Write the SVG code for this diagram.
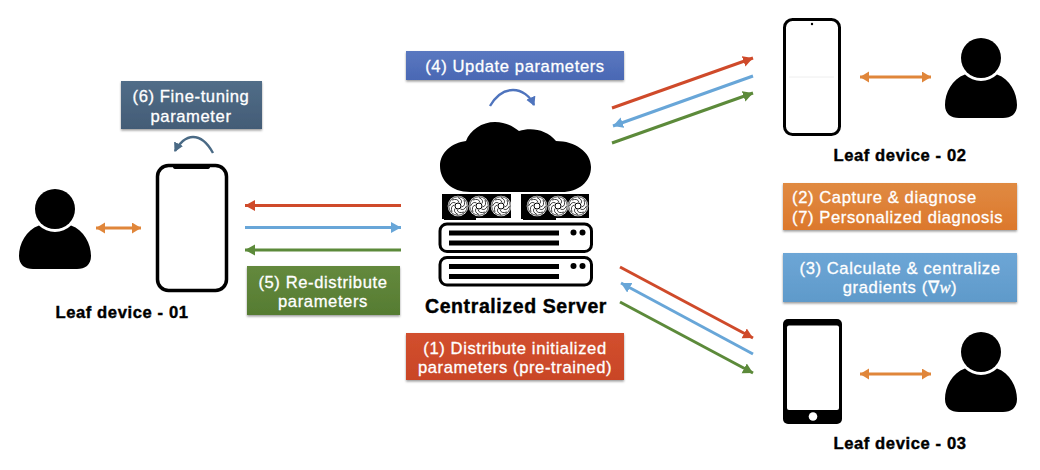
<svg xmlns="http://www.w3.org/2000/svg" xmlns:xlink="http://www.w3.org/1999/xlink" width="1040" height="470" viewBox="0 0 1040 470">
<style>
text{font-family:"Liberation Sans",Arial,sans-serif}
.lbl{fill:#fff;stroke:#fff;stroke-width:.3;font-size:16.6px;text-anchor:middle;letter-spacing:.6px}
.cap{fill:#000;stroke:#000;stroke-width:.4;font-weight:bold;font-size:16.6px;text-anchor:middle;letter-spacing:.6px}
.box{filter:url(#sh)}
.a{fill:none;stroke-width:3}
.r{stroke:#cf4a2a;marker-end:url(#mr)}
.b{stroke:#68a6d8;marker-end:url(#mb)}
.g{stroke:#5c8a3a;marker-end:url(#mg)}
.o{stroke:#e0863a;stroke-width:3;marker-start:url(#mo);marker-end:url(#mo)}
.bar{fill:#000}
</style>
<defs>
<filter id="sh" x="-5%" y="-10%" width="110%" height="125%"><feDropShadow dx="0" dy="1.5" stdDeviation="1.2" flood-color="#000" flood-opacity=".4"/></filter>
<marker id="mr" markerUnits="userSpaceOnUse" markerWidth="12" markerHeight="12" refX="10" refY="5.5" orient="auto"><path d="M0 0L10 5.5L0 11z" fill="#cf4a2a"/></marker>
<marker id="mb" markerUnits="userSpaceOnUse" markerWidth="12" markerHeight="12" refX="10" refY="5.5" orient="auto"><path d="M0 0L10 5.5L0 11z" fill="#68a6d8"/></marker>
<marker id="mg" markerUnits="userSpaceOnUse" markerWidth="12" markerHeight="12" refX="10" refY="5.5" orient="auto"><path d="M0 0L10 5.5L0 11z" fill="#5c8a3a"/></marker>
<marker id="mo" markerUnits="userSpaceOnUse" markerWidth="12" markerHeight="12" refX="9" refY="5.5" orient="auto-start-reverse"><path d="M0 0L9 5.5L0 11z" fill="#e0863a"/></marker>
<marker id="mu" markerUnits="userSpaceOnUse" markerWidth="12" markerHeight="12" refX="8" refY="5" orient="auto"><path d="M0 0L9 5L0 10z" fill="#4f74bd"/></marker>
<marker id="ms" markerUnits="userSpaceOnUse" markerWidth="12" markerHeight="12" refX="8" refY="5" orient="auto"><path d="M0 0L9 5L0 10z" fill="#4a6a85"/></marker>
<linearGradient id="gu" x1="0" y1="0" x2="0" y2="1"><stop offset="0" stop-color="#5a78c0"/><stop offset="1" stop-color="#4a68b4"/></linearGradient>
<linearGradient id="gr" x1="0" y1="0" x2="0" y2="1"><stop offset="0" stop-color="#d2502e"/><stop offset="1" stop-color="#c94527"/></linearGradient>
<linearGradient id="gs" x1="0" y1="0" x2="0" y2="1"><stop offset="0" stop-color="#516d88"/><stop offset="1" stop-color="#435c76"/></linearGradient>
<linearGradient id="gg" x1="0" y1="0" x2="0" y2="1"><stop offset="0" stop-color="#64893d"/><stop offset="1" stop-color="#567c32"/></linearGradient>
<linearGradient id="go" x1="0" y1="0" x2="0" y2="1"><stop offset="0" stop-color="#e08a42"/><stop offset="1" stop-color="#dc782c"/></linearGradient>
<linearGradient id="gb" x1="0" y1="0" x2="0" y2="1"><stop offset="0" stop-color="#6da6d6"/><stop offset="1" stop-color="#5f9aca"/></linearGradient>
<g id="person">
<circle r="20" fill="#000"/>
<path d="M-16 16.5A23 23 0 0 0 16 16.5C29 21 36 35 36 47C36 56 30 60 22 60L-22 60C-30 60 -36 56 -36 47C-36 35 -29 21 -16 16.5Z" fill="#000"/>
</g>
<g id="fan">
<circle r="10.3" fill="#fff"/>
<circle r="9.3" fill="none" stroke="#000" stroke-width=".7"/>
<g fill="none" stroke="#000" stroke-width=".75">
<path d="M0-8.5Q5-6 3-2.5"/><path d="M6-6Q8 0 3.5 1"/><path d="M8.5 0Q6 5 2.5 3"/><path d="M6 6Q0 8-1 3.5"/>
<path d="M0 8.5Q-5 6-3 2.5"/><path d="M-6 6Q-8 0-3.5-1"/><path d="M-8.5 0Q-6-5-2.5-3"/><path d="M-6-6Q0-8 1-3.5"/>
</g>
<circle r="3" fill="#fff" stroke="#000" stroke-width="1"/>
</g>
<g id="rack">
<rect x="0" y="0" width="151.500" height="27.500" rx="7" fill="#fff" stroke="#000" stroke-width="3"/>
<rect class="bar" x="9" y="6.500" width="110" height="5"/>
<rect class="bar" x="9" y="16.500" width="110" height="5"/>
<circle cx="133.500" cy="8.500" r="3"/>
<circle cx="142.500" cy="8.500" r="3"/>
</g>
</defs>
<rect width="1040" height="470" fill="#fff"/>

<g id="connectors">
<path class="a r" d="M401 205.500H245"/>
<path class="a b" d="M245 227.500H401"/>
<path class="a g" d="M401 250H245"/>
<path class="a o" d="M96 228H141"/>
<path class="a o" d="M860 77H931"/>
<path class="a o" d="M860 374H931"/>
<path class="a r" d="M612 108L753 58"/>
<path class="a b" d="M753 76L613 126"/>
<path class="a g" d="M612 143L753 93"/>
<path class="a r" d="M620 267L753 338"/>
<path class="a b" d="M753 354L621 283"/>
<path class="a g" d="M620 302L753 373"/>
<path fill="none" stroke="#4f74bd" stroke-width="2.400" marker-end="url(#mu)" d="M490 106C497 94 506 90 513 90C522 90 530 96 534 105"/>
<path fill="none" stroke="#4a6a85" stroke-width="2.400" marker-end="url(#ms)" d="M213 153C207 142 200 137 193 137C186 137 179 143 175 151"/>
</g>

<g id="server">
<path d="M470 192C451 192 440 180 440 166C440 152 452 143 466 141C470 130 482 122 495 122C505 122 513 126 519 131C532 127 547 130 556 141C575 141 591 152 591 167C591 182 578 192 562 192Z" fill="#000"/>
<path d="M442 194H511V218H476V220H444V219H442Z" fill="#000"/>
<path d="M521 194H589V218H556V220H523V219H521Z" fill="#000"/>
<use href="#fan" x="458" y="206"/><use href="#fan" x="479" y="206"/><use href="#fan" x="501" y="206"/>
<use href="#fan" x="537" y="206"/><use href="#fan" x="558" y="206"/><use href="#fan" x="578" y="206"/>
<use href="#rack" x="440" y="224"/>
<use href="#rack" x="440" y="257.500"/>
<text class="cap" x="516" y="313" style="font-size:19.5px;letter-spacing:.6px">Centralized Server</text>
</g>

<g id="device-01">
<use href="#person" x="55" y="209"/>
<rect x="157.500" y="165.500" width="69" height="125" rx="11" fill="#fff" stroke="#000" stroke-width="3.500"/>
<path d="M173 165H210V167Q210 169 207 169H176Q173 169 173 167Z" fill="#000"/>
<text class="cap" x="122" y="318">Leaf device - 01</text>
</g>

<g id="device-02">
<rect x="784.500" y="19.500" width="55" height="115" rx="8" fill="#fff" stroke="#000" stroke-width="3"/>
<circle cx="812" cy="24" r="1.200"/>
<path d="M789 77H834" stroke="#eee" stroke-width="1"/>
<use href="#person" x="981" y="58"/>
<text class="cap" x="900" y="161">Leaf device - 02</text>
</g>

<g id="device-03">
<rect x="783" y="319" width="59" height="105" rx="5" fill="#000"/>
<rect x="787" y="325.500" width="52" height="84.500" rx="2" fill="#fff"/>
<circle cx="813" cy="416.500" r="4.300" fill="#fff"/>
<use href="#person" x="981" y="352"/>
<text class="cap" x="900" y="449">Leaf device - 03</text>
</g>

<g id="step-4"><rect class="box" x="406" y="51" width="218" height="29" fill="url(#gu)"/><text class="lbl" x="515" y="72">(4) Update parameters</text></g>
<g id="step-1"><rect class="box" x="406" y="333" width="218" height="47" fill="url(#gr)"/><text class="lbl" x="515" y="354">(1) Distribute initialized</text><text class="lbl" x="515" y="373">parameters (pre-trained)</text></g>
<g id="step-6"><rect class="box" x="121" y="81" width="141" height="48" fill="url(#gs)"/><text class="lbl" x="191" y="102">(6) Fine-tuning</text><text class="lbl" x="191" y="122">parameter</text></g>
<g id="step-5"><rect class="box" x="247" y="266" width="153" height="49" fill="url(#gg)"/><text class="lbl" x="323" y="288">(5) Re-distribute</text><text class="lbl" x="323" y="307">parameters</text></g>
<g id="step-2-7"><rect class="box" x="783" y="183" width="234" height="47" fill="url(#go)"/><text class="lbl" style="text-anchor:start" x="792" y="203">(2) Capture &amp; diagnose</text><text class="lbl" style="text-anchor:start" x="792" y="223">(7) Personalized diagnosis</text></g>
<g id="step-3"><rect class="box" x="783" y="253" width="234" height="49" fill="url(#gb)"/><text class="lbl" x="900" y="274">(3) Calculate &amp; centralize</text><text class="lbl" x="900" y="293">gradients (∇<tspan font-family="'Liberation Serif',serif" font-style="italic">w</tspan>)</text></g>
</svg>
